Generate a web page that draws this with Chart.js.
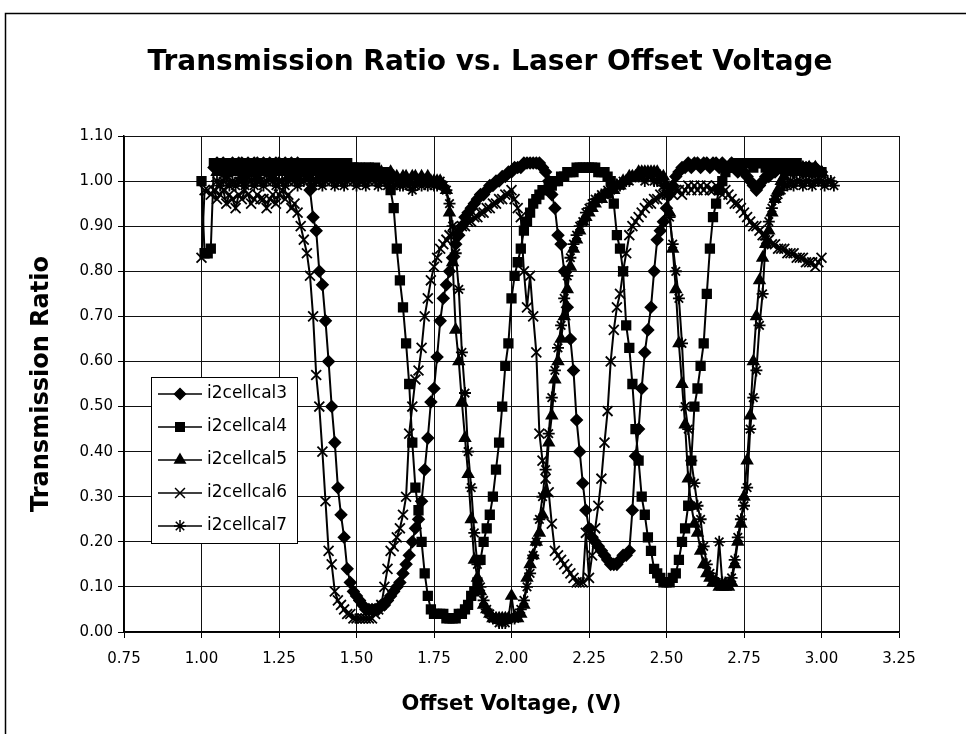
<!DOCTYPE html>
<html>
<head>
<meta charset="utf-8">
<title>Transmission Ratio vs. Laser Offset Voltage</title>
<script src="https://cdn.jsdelivr.net/npm/chart.js@4.4.1/dist/chart.umd.min.js"></script>
<style>
  html, body { margin: 0; padding: 0; background: #fff; }
  #wrap { position: relative; width: 966px; height: 734px; }
</style>
</head>
<body>
<div id="wrap"><canvas id="transmissionChart" width="966" height="734"></canvas></div>
<script>
// Offset voltage of each scan step (V)
const voltage = [
  1.00, 1.01, 1.02, 1.03, 1.04, 1.05, 1.06, 1.07, 1.08, 1.09,
  1.10, 1.11, 1.12, 1.13, 1.14, 1.15, 1.16, 1.17, 1.18, 1.19,
  1.20, 1.21, 1.22, 1.23, 1.24, 1.25, 1.26, 1.27, 1.28, 1.29,
  1.30, 1.31, 1.32, 1.33, 1.34, 1.35, 1.36, 1.37, 1.38, 1.39,
  1.40, 1.41, 1.42, 1.43, 1.44, 1.45, 1.46, 1.47, 1.48, 1.49,
  1.50, 1.51, 1.52, 1.53, 1.54, 1.55, 1.56, 1.57, 1.58, 1.59,
  1.60, 1.61, 1.62, 1.63, 1.64, 1.65, 1.66, 1.67, 1.68, 1.69,
  1.70, 1.71, 1.72, 1.73, 1.74, 1.75, 1.76, 1.77, 1.78, 1.79,
  1.80, 1.81, 1.82, 1.83, 1.84, 1.85, 1.86, 1.87, 1.88, 1.89,
  1.90, 1.91, 1.92, 1.93, 1.94, 1.95, 1.96, 1.97, 1.98, 1.99,
  2.00, 2.01, 2.02, 2.03, 2.04, 2.05, 2.06, 2.07, 2.08, 2.09,
  2.10, 2.11, 2.12, 2.13, 2.14, 2.15, 2.16, 2.17, 2.18, 2.19,
  2.20, 2.21, 2.22, 2.23, 2.24, 2.25, 2.26, 2.27, 2.28, 2.29,
  2.30, 2.31, 2.32, 2.33, 2.34, 2.35, 2.36, 2.37, 2.38, 2.39,
  2.40, 2.41, 2.42, 2.43, 2.44, 2.45, 2.46, 2.47, 2.48, 2.49,
  2.50, 2.51, 2.52, 2.53, 2.54, 2.55, 2.56, 2.57, 2.58, 2.59,
  2.60, 2.61, 2.62, 2.63, 2.64, 2.65, 2.66, 2.67, 2.68, 2.69,
  2.70, 2.71, 2.72, 2.73, 2.74, 2.75, 2.76, 2.77, 2.78, 2.79,
  2.80, 2.81, 2.82, 2.83, 2.84, 2.85, 2.86, 2.87, 2.88, 2.89,
  2.90, 2.91, 2.92, 2.93, 2.94, 2.95, 2.96, 2.97, 2.98, 2.99,
  3.00, 3.01, 3.02, 3.03, 3.04
];

// Transmission ratio per scan, one value per voltage step (null = not scanned)
const i2cellcal3 = [
  null, null, null, null, 1.03, 1.04, 1.03, 1.04, 1.03, 1.03,
  1.04, 1.03, 1.04, 1.04, 1.03, 1.04, 1.03, 1.04, 1.04, 1.03,
  1.04, 1.03, 1.04, 1.03, 1.04, 1.04, 1.03, 1.04, 1.03, 1.04,
  1.03, 1.04, 1.03, 1.02, 1.03, 0.98, 0.92, 0.89, 0.80, 0.77,
  0.69, 0.60, 0.50, 0.42, 0.32, 0.26, 0.21, 0.14, 0.11, 0.09,
  0.08, 0.07, 0.06, 0.05, 0.05, 0.05, 0.05, 0.05, 0.06, 0.06,
  0.07, 0.08, 0.09, 0.10, 0.11, 0.13, 0.15, 0.17, 0.20, 0.23,
  0.25, 0.29, 0.36, 0.43, 0.51, 0.54, 0.61, 0.69, 0.74, 0.77,
  0.80, 0.83, 0.86, 0.88, 0.90, 0.92, 0.93, 0.94, 0.95, 0.96,
  0.97, 0.97, 0.98, 0.99, 0.99, 1.00, 1.00, 1.01, 1.01, 1.02,
  1.02, 1.03, 1.03, 1.03, 1.04, 1.04, 1.04, 1.04, 1.04, 1.04,
  1.03, 1.02, 1.00, 0.97, 0.94, 0.88, 0.86, 0.80, 0.72, 0.65,
  0.58, 0.47, 0.40, 0.33, 0.27, 0.23, 0.21, 0.20, 0.19, 0.18,
  0.17, 0.16, 0.15, 0.15, 0.15, 0.16, 0.17, 0.17, 0.18, 0.27,
  0.39, 0.45, 0.54, 0.62, 0.67, 0.72, 0.80, 0.87, 0.89, 0.91,
  0.94, 0.97, 0.99, 1.01, 1.02, 1.03, 1.03, 1.04, 1.03, 1.04,
  1.04, 1.03, 1.04, 1.04, 1.03, 1.04, 1.04, 1.03, 1.04, 1.03,
  1.03, 1.04, 1.03, 1.02, 1.03, 1.02, 1.01, 1.00, 0.99, 0.98,
  0.99, 1.00, 1.01, 1.01, 1.02, 1.02, 1.03, 1.03, 1.02, 1.03,
  1.03, 1.02, 1.03, 1.03, 1.02, 1.03, 1.03, 1.02, 1.03, 1.02,
  1.02, null, null, null, null
];

const i2cellcal4 = [
  1.00, 0.84, 0.84, 0.85, 1.04, 1.04, 1.03, 1.04, 1.04, 1.03,
  1.04, 1.04, 1.03, 1.04, 1.04, 1.04, 1.03, 1.04, 1.04, 1.04,
  1.03, 1.04, 1.04, 1.04, 1.03, 1.04, 1.04, 1.04, 1.03, 1.04,
  1.04, 1.04, 1.03, 1.04, 1.04, 1.04, 1.03, 1.04, 1.03, 1.04,
  1.04, 1.03, 1.04, 1.03, 1.04, 1.03, 1.03, 1.04, 1.03, 1.03,
  1.03, 1.03, 1.02, 1.03, 1.03, 1.02, 1.03, 1.02, 1.02, 1.02,
  1.01, 0.98, 0.94, 0.85, 0.78, 0.72, 0.64, 0.55, 0.42, 0.32,
  0.27, 0.20, 0.13, 0.08, 0.05, 0.04, 0.04, 0.04, 0.04, 0.03,
  0.03, 0.03, 0.03, 0.04, 0.04, 0.05, 0.06, 0.08, 0.09, 0.11,
  0.16, 0.20, 0.23, 0.26, 0.30, 0.36, 0.42, 0.50, 0.59, 0.64,
  0.74, 0.79, 0.82, 0.85, 0.89, 0.91, 0.93, 0.95, 0.96, 0.97,
  0.98, 0.98, 0.99, 0.99, 1.00, 1.00, 1.01, 1.01, 1.02, 1.02,
  1.02, 1.03, 1.03, 1.03, 1.03, 1.03, 1.03, 1.03, 1.02, 1.02,
  1.02, 1.01, 1.00, 0.95, 0.88, 0.85, 0.80, 0.68, 0.63, 0.55,
  0.45, 0.38, 0.30, 0.26, 0.21, 0.18, 0.14, 0.13, 0.12, 0.11,
  0.11, 0.11, 0.12, 0.13, 0.16, 0.20, 0.23, 0.28, 0.38, 0.50,
  0.54, 0.59, 0.64, 0.75, 0.85, 0.92, 0.95, 0.98, 1.00, 1.02,
  1.03, 1.03, 1.04, 1.04, 1.03, 1.04, 1.04, 1.04, 1.03, 1.04,
  1.04, 1.04, 1.03, 1.04, 1.04, 1.04, 1.03, 1.04, 1.04, 1.03,
  1.04, 1.03, 1.04, 1.03, 1.03, 1.02, 1.03, 1.02, 1.02, 1.02,
  1.02, null, null, null, null
];

const i2cellcal5 = [
  null, null, null, null, null, 1.02, 1.03, 1.02, 1.02, 1.03,
  1.02, 1.02, 1.03, 1.01, 1.02, 1.03, 1.02, 1.02, 1.01, 1.02,
  1.03, 1.02, 1.02, 1.01, 1.02, 1.02, 1.03, 1.02, 1.01, 1.02,
  1.02, 1.01, 1.02, 1.03, 1.02, 1.01, 1.02, 1.02, 1.01, 1.02,
  1.01, 1.02, 1.02, 1.01, 1.02, 1.01, 1.02, 1.01, 1.02, 1.01,
  1.02, 1.01, 1.01, 1.02, 1.01, 1.02, 1.01, 1.01, 1.02, 1.01,
  1.01, 1.02, 1.01, 1.01, 1.00, 1.01, 1.01, 1.00, 1.01, 1.01,
  1.00, 1.01, 1.00, 1.01, 1.00, 1.00, 1.00, 1.00, 0.99, 0.98,
  0.93, 0.82, 0.67, 0.60, 0.51, 0.43, 0.35, 0.25, 0.16, 0.12,
  0.09, 0.06, 0.05, 0.04, 0.03, 0.03, 0.03, 0.03, 0.03, 0.03,
  0.08, 0.03, 0.03, 0.04, 0.06, 0.12, 0.15, 0.17, 0.20, 0.22,
  0.26, 0.31, 0.42, 0.48, 0.56, 0.60, 0.65, 0.70, 0.76, 0.81,
  0.85, 0.87, 0.89, 0.91, 0.92, 0.93, 0.94, 0.95, 0.96, 0.96,
  0.97, 0.97, 0.98, 0.98, 0.99, 0.99, 1.00, 1.00, 1.01, 1.01,
  1.01, 1.02, 1.02, 1.02, 1.02, 1.02, 1.02, 1.02, 1.01, 1.01,
  0.99, 0.93, 0.85, 0.76, 0.64, 0.55, 0.46, 0.34, 0.28, 0.24,
  0.22, 0.18, 0.15, 0.13, 0.12, 0.11, 0.11, 0.10, 0.10, 0.10,
  0.10, 0.11, 0.15, 0.20, 0.24, 0.30, 0.38, 0.48, 0.60, 0.70,
  0.78, 0.83, 0.86, 0.89, 0.93, 0.96, 0.98, 1.00, 1.01, 1.02,
  1.02, 1.03, 1.02, 1.03, 1.03, 1.02, 1.03, 1.02, 1.03, 1.02,
  1.02, null, null, null, null
];

const i2cellcal6 = [
  0.83, 0.98, 0.98, 0.97, 0.98, 0.96, 0.97, 0.98, 0.95, 0.97,
  0.96, 0.94, 0.97, 0.96, 0.98, 0.97, 0.95, 0.96, 0.97, 0.96,
  0.96, 0.94, 0.96, 0.97, 0.95, 0.97, 0.98, 0.96, 0.97, 0.94,
  0.95, 0.93, 0.90, 0.87, 0.84, 0.79, 0.70, 0.57, 0.50, 0.40,
  0.29, 0.18, 0.15, 0.09, 0.07, 0.06, 0.05, 0.04, 0.04, 0.03,
  0.03, 0.03, 0.03, 0.03, 0.03, 0.03, 0.04, 0.05, 0.06, 0.10,
  0.14, 0.18, 0.19, 0.21, 0.23, 0.26, 0.30, 0.44, 0.50, 0.56,
  0.58, 0.63, 0.70, 0.74, 0.78, 0.81, 0.83, 0.85, 0.86, 0.87,
  0.88, 0.88, 0.89, 0.89, 0.90, 0.90, 0.91, 0.91, 0.92, 0.92,
  0.93, 0.93, 0.94, 0.94, 0.95, 0.95, 0.96, 0.96, 0.97, 0.97,
  0.98, 0.96, 0.94, 0.92, 0.80, 0.72, 0.79, 0.70, 0.62, 0.44,
  0.38, 0.34, 0.31, 0.24, 0.18, 0.17, 0.16, 0.15, 0.14, 0.13,
  0.12, 0.11, 0.11, 0.11, 0.22, 0.12, 0.17, 0.23, 0.28, 0.34,
  0.42, 0.49, 0.60, 0.67, 0.72, 0.75, 0.80, 0.84, 0.88, 0.90,
  0.91, 0.92, 0.93, 0.94, 0.95, 0.95, 0.96, 0.96, 0.97, 0.97,
  0.97, 0.98, 0.97, 0.98, 0.98, 0.97, 0.98, 0.99, 0.98, 0.99,
  0.98, 0.99, 0.98, 0.99, 0.98, 0.98, 0.99, 0.98, 0.97, 0.98,
  0.97, 0.96, 0.95, 0.95, 0.94, 0.93, 0.92, 0.91, 0.90, 0.90,
  0.89, 0.88, 0.88, 0.87, 0.86, 0.86, 0.85, 0.85, 0.85, 0.84,
  0.84, 0.84, 0.83, 0.83, 0.83, 0.82, 0.82, 0.82, 0.81, 0.82,
  0.83, null, null, null, null
];

const i2cellcal7 = [
  null, null, null, null, null, 1.00, 0.99, 1.00, 1.01, 0.99,
  1.00, 0.99, 1.00, 1.00, 0.99, 1.01, 1.00, 0.99, 1.00, 1.00,
  0.99, 1.00, 1.01, 1.00, 0.99, 1.00, 1.00, 0.99, 1.00, 1.01,
  1.00, 0.99, 1.00, 1.00, 1.01, 1.00, 0.99, 1.00, 1.00, 0.99,
  1.00, 1.01, 1.00, 0.99, 1.00, 1.00, 0.99, 1.00, 1.01, 1.00,
  0.99, 1.00, 1.00, 0.99, 1.00, 1.01, 1.00, 0.99, 1.00, 1.00,
  0.99, 1.00, 0.99, 1.00, 0.99, 0.99, 1.00, 0.99, 0.98, 0.99,
  1.00, 0.99, 1.00, 0.99, 1.00, 0.99, 0.99, 1.00, 0.99, 0.98,
  0.95, 0.90, 0.84, 0.76, 0.62, 0.53, 0.40, 0.32, 0.22, 0.15,
  0.10, 0.07, 0.05, 0.04, 0.03, 0.03, 0.02, 0.02, 0.02, 0.03,
  0.03, 0.03, 0.04, 0.05, 0.07, 0.10, 0.13, 0.17, 0.20, 0.25,
  0.30, 0.36, 0.44, 0.52, 0.58, 0.63, 0.68, 0.74, 0.79, 0.83,
  0.86, 0.88, 0.90, 0.91, 0.93, 0.94, 0.95, 0.96, 0.96, 0.97,
  0.97, 0.98, 0.98, 0.99, 0.99, 0.99, 1.00, 1.00, 1.00, 1.01,
  1.01, 1.01, 1.01, 1.00, 1.01, 1.01, 1.00, 1.00, 1.00, 0.99,
  0.97, 0.92, 0.86, 0.80, 0.74, 0.64, 0.50, 0.45, 0.38, 0.33,
  0.28, 0.25, 0.19, 0.15, 0.13, 0.12, 0.11, 0.20, 0.11, 0.11,
  0.11, 0.12, 0.16, 0.21, 0.25, 0.28, 0.32, 0.45, 0.52, 0.58,
  0.68, 0.75, 0.87, 0.91, 0.94, 0.96, 0.97, 0.98, 0.99, 0.99,
  1.00, 0.99, 1.00, 1.00, 0.99, 1.00, 1.00, 0.99, 1.00, 1.00,
  1.00, 0.99, 1.00, 1.00, 0.99
];

const seriesNames = ['i2cellcal3', 'i2cellcal4', 'i2cellcal5', 'i2cellcal6', 'i2cellcal7'];
const seriesValues = [i2cellcal3, i2cellcal4, i2cellcal5, i2cellcal6, i2cellcal7];
const seriesMarkers = ['rectRot', 'rect', 'triangle', 'crossRot', 'star'];
const seriesMarkerSize = [5.5, 6, 6, 7, 6];

const chartTitle = 'Transmission Ratio vs. Laser Offset Voltage';
const xTitle = 'Offset Voltage, (V)';
const yTitle = 'Transmission Ratio';

const FONT = '"DejaVu Sans", "Liberation Sans", sans-serif';

function toPoints(values) {
    return voltage
        .map((v, i) => ({ x: v, y: values[i] }))
        .filter(p => p.y !== null);
}

const datasets = seriesNames.map((name, i) => ({
    label: name,
    data: toPoints(seriesValues[i]),
    showLine: true,
    borderColor: '#000',
    backgroundColor: '#000',
    borderWidth: 2,
    pointStyle: seriesMarkers[i],
    pointRadius: seriesMarkerSize[i],
    pointBorderWidth: 1.8,
    pointBackgroundColor: '#000',
    pointBorderColor: '#000',
    tension: 0
}));

// white page with the frame line along the left and top edge
const pageFrame = {
    id: 'pageFrame',
    beforeDraw(chart) {
        const ctx = chart.ctx;
        ctx.save();
        ctx.fillStyle = '#fff';
        ctx.fillRect(0, 0, chart.width, chart.height);
        ctx.strokeStyle = '#000';
        ctx.lineWidth = 1.5;
        ctx.beginPath();
        ctx.moveTo(5.5, chart.height);
        ctx.lineTo(5.5, 13.5);
        ctx.lineTo(chart.width, 13.5);
        ctx.stroke();
        ctx.restore();
    },
    afterDraw(chart) {
        // heading above the plot
        const ctx = chart.ctx;
        ctx.save();
        ctx.fillStyle = '#000';
        ctx.font = 'bold 28px ' + FONT;
        ctx.textAlign = 'center';
        ctx.textBaseline = 'middle';
        ctx.fillText(chartTitle, 490, 63);
        ctx.restore();
    }
};

// boxed legend sitting inside the plot area
const boxedLegend = {
    id: 'boxedLegend',
    afterDatasetsDraw(chart) {
        const ctx = chart.ctx;
        const box = { left: 151, top: 377, width: 146, height: 166 };
        ctx.save();
        ctx.fillStyle = '#fff';
        ctx.fillRect(box.left, box.top, box.width, box.height);
        ctx.strokeStyle = '#000';
        ctx.lineWidth = 1;
        ctx.strokeRect(box.left + 0.5, box.top + 0.5, box.width, box.height);

        ctx.font = '17px ' + FONT;
        ctx.textBaseline = 'middle';
        ctx.textAlign = 'left';
        chart.data.datasets.forEach((ds, i) => {
            const y = box.top + 17 + i * 33;
            ctx.strokeStyle = '#000';
            ctx.lineWidth = 1.5;
            ctx.beginPath();
            ctx.moveTo(box.left + 7, y);
            ctx.lineTo(box.left + 51, y);
            ctx.stroke();
            ctx.fillStyle = '#000';
            Chart.helpers.drawPoint(ctx, {
                pointStyle: ds.pointStyle,
                radius: ds.pointRadius,
                borderWidth: ds.pointBorderWidth,
                rotation: 0
            }, box.left + 29, y);
            ctx.fillStyle = '#000';
            ctx.fillText(ds.label, box.left + 56, y);
        });
        ctx.restore();
    }
};

const ctx = document.getElementById('transmissionChart').getContext('2d');
const transmissionChart = new Chart(ctx, {
    type: 'scatter',
    data: { datasets: datasets },
    options: {
        responsive: false,
        animation: false,
        events: [],
        layout: {
            padding: { top: 136, right: 67, bottom: 0, left: 0 }
        },
        plugins: {
            legend: { display: false },
            tooltip: { enabled: false },
            title: { display: false }
        },
        scales: {
            x: {
                type: 'linear',
                min: 0.75,
                max: 3.25,
                afterFit: function(scale) { scale.height = 102; },
                grid: { color: '#111', lineWidth: 1, drawTicks: true, tickLength: 6, tickColor: '#000' },
                border: { color: '#000', width: 1.5 },
                ticks: {
                    stepSize: 0.25,
                    color: '#000',
                    padding: 12,
                    maxRotation: 0,
                    font: { family: FONT, size: 15 },
                    callback: function(value) { return value.toFixed(2); }
                },
                title: {
                    display: true,
                    text: xTitle,
                    color: '#000',
                    font: { family: FONT, size: 21, weight: 'bold' },
                    padding: { top: 0, bottom: 17 }
                }
            },
            y: {
                min: 0,
                max: 1.1,
                afterFit: function(scale) { scale.width = 124; },
                grid: { color: '#111', lineWidth: 1, drawTicks: true, tickLength: 6, tickColor: '#000' },
                border: { color: '#000', width: 1.5 },
                ticks: {
                    stepSize: 0.1,
                    color: '#000',
                    padding: 5,
                    font: { family: FONT, size: 15 },
                    callback: function(value) { return value.toFixed(2); }
                },
                title: {
                    display: true,
                    text: yTitle,
                    color: '#000',
                    font: { family: FONT, size: 24, weight: 'bold' },
                    padding: { top: 27, bottom: 0 }
                }
            }
        }
    },
    plugins: [pageFrame, boxedLegend]
});
</script>
</body>
</html>
